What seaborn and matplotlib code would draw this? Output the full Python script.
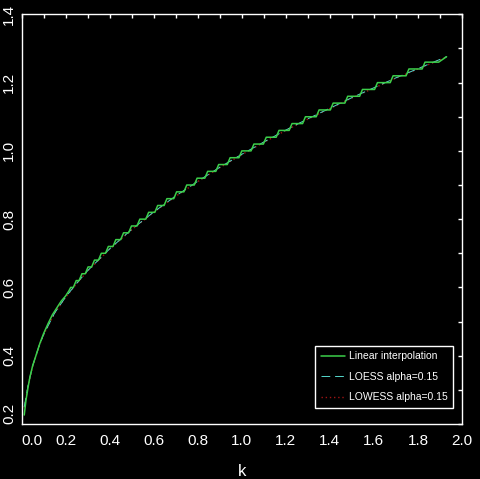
import numpy as np
import pandas as pd
import matplotlib
matplotlib.use("Agg")
import matplotlib.pyplot as plt
import seaborn as sns

# ── Data ──────────────────────────────────────────────────────────────────────
# smooth lower part of the linear interpolation curve
low_k = [0.012, 0.020, 0.030, 0.038, 0.050, 0.065, 0.083, 0.100, 0.121, 0.140,
         0.160, 0.180, 0.200, 0.215]
low_y = [0.226, 0.270, 0.310, 0.338, 0.370, 0.400, 0.436, 0.465, 0.495, 0.520,
         0.540, 0.560, 0.575, 0.590]

# staircase part: level, where each flat starts and where it ends
step_level = [0.60, 0.62, 0.64, 0.66, 0.68, 0.70, 0.72, 0.74, 0.76, 0.78,
              0.80, 0.82, 0.84, 0.86, 0.88, 0.90, 0.92, 0.94, 0.96, 0.98,
              1.00, 1.02, 1.04, 1.06, 1.08, 1.10, 1.12, 1.14, 1.16, 1.18,
              1.20, 1.22, 1.24, 1.26]
step_start = [0.223, 0.248, 0.274, 0.302, 0.331, 0.362, 0.394, 0.428, 0.463, 0.499,
              0.537, 0.577, 0.618, 0.660, 0.704, 0.750, 0.797, 0.845, 0.895, 0.947,
              1.000, 1.055, 1.111, 1.169, 1.228, 1.289, 1.351, 1.415, 1.481, 1.548,
              1.616, 1.687, 1.759, 1.832]
step_end = [0.235, 0.261, 0.289, 0.318, 0.349, 0.381, 0.415, 0.450, 0.486, 0.524,
            0.564, 0.605, 0.647, 0.691, 0.737, 0.784, 0.832, 0.882, 0.934, 0.987,
            1.042, 1.098, 1.156, 1.215, 1.276, 1.338, 1.402, 1.468, 1.535, 1.603,
            1.674, 1.746, 1.819, 1.894]
tail_k = [1.930]
tail_y = [1.276]

# smoothed curves
smooth_k = [0.012, 0.030, 0.050, 0.080, 0.100, 0.150, 0.200, 0.250, 0.300, 0.400,
            0.500, 0.600, 0.700, 0.800, 0.900, 1.000, 1.100, 1.200, 1.300, 1.400,
            1.500, 1.600, 1.700, 1.800, 1.900, 1.930]
loess_y = [0.250, 0.315, 0.370, 0.430, 0.462, 0.525, 0.572, 0.612, 0.649, 0.713,
           0.770, 0.821, 0.868, 0.911, 0.952, 0.990, 1.026, 1.061, 1.094, 1.125,
           1.156, 1.185, 1.214, 1.241, 1.268, 1.276]
lowess_y = [0.248, 0.313, 0.368, 0.429, 0.461, 0.524, 0.571, 0.611, 0.648, 0.712,
            0.769, 0.820, 0.867, 0.910, 0.951, 0.989, 1.025, 1.060, 1.093, 1.124,
            1.155, 1.184, 1.213, 1.240, 1.267, 1.275]

xticks = [0.0, 0.2, 0.4, 0.6, 0.8, 1.0, 1.2, 1.4, 1.6, 1.8, 2.0]
yticks = [0.2, 0.4, 0.6, 0.8, 1.0, 1.2, 1.4]

# ── Build the linear interpolation series ────────────────────────────────────
lin_k = list(low_k)
lin_y = list(low_y)
for lv, s, e in zip(step_level, step_start, step_end):
    lin_k += [s, e]
    lin_y += [lv, lv]
lin_k += tail_k
lin_y += tail_y
df_lin = pd.DataFrame({"k": lin_k, "y": lin_y})
df_smooth = pd.DataFrame({"k": smooth_k, "loess": loess_y, "lowess": lowess_y})

# ── Style ─────────────────────────────────────────────────────────────────────
sns.set_theme(style="dark")
plt.rcParams.update({
    "figure.facecolor": "black", "axes.facecolor": "black",
    "axes.edgecolor": "white", "axes.linewidth": 1.0,
    "text.color": "white", "axes.labelcolor": "white",
    "xtick.color": "white", "ytick.color": "white",
    "axes.grid": False,
})
plt.rcParams["font.family"] = ["Liberation Sans", "DejaVu Sans"]

fig = plt.figure(figsize=(4.8, 4.79), dpi=100)
ax = fig.add_axes([0.045, 0.115, 0.9175, 0.855])

sns.lineplot(data=df_smooth, x="k", y="lowess", ax=ax, color="#a01414",
             linestyle=(0, (1, 2)), linewidth=1.0, estimator=None, sort=False,
             label="LOWESS alpha=0.15", zorder=2)
sns.lineplot(data=df_smooth, x="k", y="loess", ax=ax, color="#55d8cc",
             linestyle=(0, (9, 5)), linewidth=0.7, estimator=None, sort=False,
             label="LOESS alpha=0.15", zorder=3)
sns.lineplot(data=df_lin, x="k", y="y", ax=ax, color="#3ccf4a",
             linewidth=1.1, estimator=None, sort=False,
             label="Linear interpolation", zorder=4)

ax.set_xlim(0.0, 2.0)
ax.set_ylim(0.2, 1.4)
ax.set_xticks(xticks)
ax.set_yticks(yticks)
ax.set_xticklabels([f"{v:.1f}" for v in xticks])
ax.set_yticklabels([f"{v:.1f}" for v in yticks], rotation=90, va="center")
ax.get_xticklabels()[0].set_ha("left")
ax.get_yticklabels()[0].set_va("bottom")
ax.set_xticks(np.arange(0.1, 2.0, 0.2), minor=True)
ax.set_yticks(np.arange(0.3, 1.4, 0.2), minor=True)
ax.tick_params(which="both", direction="in", length=3, width=1,
               top=True, right=True, labelsize=11)
ax.tick_params(axis="x", pad=7)
ax.tick_params(axis="y", pad=4)
ax.set_xlabel("k", fontsize=12, labelpad=12)
ax.set_ylabel("")

for sp in ax.spines.values():
    sp.set_visible(True)
    sp.set_color("white")

handles, labels = ax.get_legend_handles_labels()
order = [2, 1, 0]
leg = ax.legend([handles[i] for i in order], [labels[i] for i in order],
                loc="lower left", bbox_to_anchor=(0.666, 0.039),
                borderaxespad=0, fontsize=7.5, frameon=True, fancybox=False,
                facecolor="black", edgecolor="white", framealpha=1,
                handlelength=2.3, handletextpad=0.4, labelspacing=1.0,
                borderpad=0.55)
leg.get_frame().set_linewidth(1)
for t in leg.get_texts():
    t.set_color("white")

fig.savefig("out.png", dpi=100, facecolor="black")
